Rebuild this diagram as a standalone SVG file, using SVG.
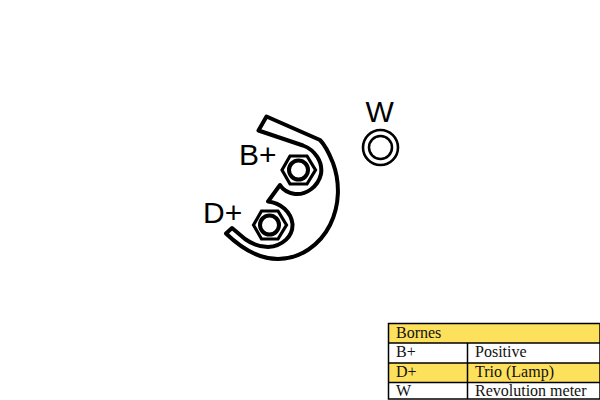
<svg xmlns="http://www.w3.org/2000/svg" width="600" height="400" viewBox="0 0 600 400">
<style>
.o{fill:none;stroke:#000;stroke-width:4;stroke-linejoin:round}
.n{fill:none;stroke:#000;stroke-width:3.200;stroke-linejoin:miter}
.r{fill:none;stroke:#000;stroke-width:4}
.l{font-family:"Liberation Sans",Arial,sans-serif;font-size:30px;fill:#000}
.t{font-family:"Liberation Serif","Times New Roman",serif;font-size:16px;fill:#111}
.g{stroke:#000;stroke-width:1.500;fill:none}
.y{fill:#fde05c}
</style>
<rect width="600" height="400" fill="#fff"/>
<g id="terminal-block">
<path class="o" d="M266.500 116.500 L258.500 130.500 L303 145.500 C315 150 323 162 321 174 C318 187 306 195 295 194 C288 193 283 190 280 185 L268 201.500 C281 203 291 212 292.500 224 C293 236 283 246 268 247 C258 247 252 244 245 239 L232 228 L226 233.500 C240 247 258 259 278 259 C300 259 320 245 330 225 C340 205 340 182 333 163 C329 153 326 146 320 140 Z"/>
</g>
<g id="terminal-b">
<path class="n" d="M282 170 L290 156 L307 156 L315.500 170 L307 184 L290 184 Z"/>
<circle class="r" cx="298.500" cy="170" r="9.500"/>
<text class="l" x="239" y="165">B+</text>
</g>
<g id="terminal-d">
<path class="n" d="M253.500 225 L261.500 211 L278 211 L286.500 225 L278 239 L261.500 239 Z"/>
<circle class="r" cx="269.500" cy="225" r="9.500"/>
<text class="l" x="203" y="223">D+</text>
</g>
<g id="terminal-w">
<circle cx="380.500" cy="147.500" r="17.500" fill="none" stroke="#000" stroke-width="2.600"/>
<circle cx="380.500" cy="147.500" r="11.500" fill="none" stroke="#000" stroke-width="2.500"/>
<text class="l" x="365.500" y="122">W</text>
</g>
<g id="legend">
<rect class="y" x="388" y="324" width="212" height="19"/>
<rect class="y" x="388" y="363" width="212" height="19.500"/>
<path class="g" d="M388.500 323.500H600V399H388.500Z M388.500 343H600 M388.500 363H600 M388.500 382.500H600 M467.500 343V399"/>
<text class="t" x="396" y="338">Bornes</text>
<text class="t" x="396" y="357">B+</text>
<text class="t" x="475" y="357">Positive</text>
<text class="t" x="396" y="377">D+</text>
<text class="t" x="475" y="377">Trio (Lamp)</text>
<text class="t" x="396" y="396">W</text>
<text class="t" x="475" y="396">Revolution meter</text>
</g>
</svg>
